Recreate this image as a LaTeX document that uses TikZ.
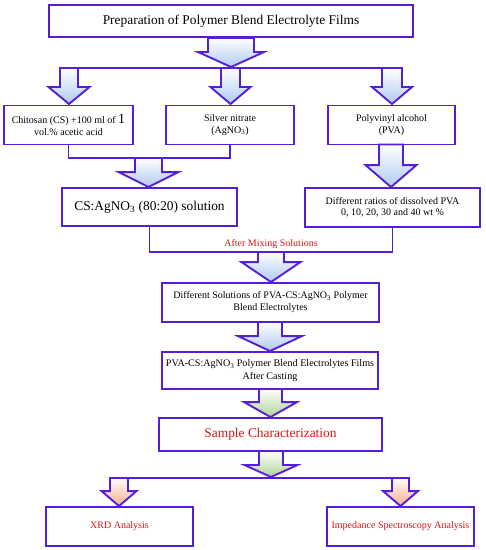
\documentclass[tikz,border=0pt]{standalone}
\usepackage{fontspec}
\setmainfont{Liberation Serif}
\usetikzlibrary{calc}
\definecolor{bord}{RGB}{85,30,215}
\definecolor{lblue}{RGB}{175,202,240}
\definecolor{lgreen}{RGB}{175,212,150}
\definecolor{lorange}{RGB}{245,175,135}
\definecolor{tred}{RGB}{220,20,20}
\tikzset{
  box/.style={draw=bord, line width=1.9pt, fill=white, rectangle, align=center, inner sep=1pt},
  link/.style={draw=bord, line width=1.9pt, line join=miter},
  smalltext/.style={font=\fontsize{10}{12}\selectfont},
  bigtext/.style={font=\fontsize{13.4}{15}\selectfont},
}
% #1 top coordinate, #2 tip y, #3 half shaft, #4 half head, #5 head length, #6 colour
\newcommand{\barrow}[6]{%
  \path[draw=bord, line width=1.9pt, line join=miter, top color=white, bottom color=#6]
    let \p1=(#1), \p2=(#2) in
    (\x1-#3,\y1) -- (\x1+#3,\y1) -- (\x1+#3,\y2+#5) -- (\x1+#4,\y2+#5) -- (\x1,\y2)
    -- (\x1-#4,\y2+#5) -- (\x1-#3,\y2+#5) -- cycle;}
\begin{document}
\begin{tikzpicture}[x=1pt,y=-1pt]
\useasboundingbox (0,0) rectangle (486,550);
% nodes
\node[box, bigtext, minimum width=364pt, minimum height=32pt] (title) at (231,21) {Preparation of Polymer Blend Electrolyte Films};
\node[box, smalltext, minimum width=129pt, minimum height=39pt] (chit) at (68.5,125) {Chitosan (CS) +100 ml of {\fontsize{14}{12}\selectfont 1}\\vol.\% acetic acid};
\node[box, smalltext, minimum width=128pt, minimum height=39pt] (silver) at (230,125) {Silver nitrate\\(AgNO\textsubscript{3})};
\node[box, smalltext, minimum width=127pt, minimum height=39pt] (pva) at (391.5,125) {Polyvinyl alcohol\\(PVA)};
\node[box, bigtext, minimum width=175pt, minimum height=38pt] (csag) at (149.5,207) {CS:AgNO\textsubscript{3} (80:20) solution};
\node[box, font=\fontsize{10}{11}\selectfont, minimum width=175pt, minimum height=39pt] (ratios) at (392.5,207.5) {Different ratios of dissolved PVA\\0, 10, 20, 30 and 40 wt \%};
\node[box, smalltext, minimum width=217pt, minimum height=39pt] (diffsol) at (270.5,302.5) {Different Solutions of PVA-CS:AgNO\textsubscript{3} Polymer\\Blend Electrolytes};
\node[box, font=\fontsize{10.1}{12.5}\selectfont, minimum width=216pt, minimum height=37pt] (films) at (270,370.5) {PVA-CS:AgNO\textsubscript{3} Polymer Blend Electrolytes Films\\After Casting};
\node[box, bigtext, minimum width=223pt, minimum height=33pt, text=tred] (sample) at (270.5,434.5) {Sample Characterization};
\node[box, smalltext, minimum width=147pt, minimum height=39pt, text=tred] (xrd) at (119.5,526.5) {XRD Analysis};
\node[box, smalltext, minimum width=147pt, minimum height=39pt, text=tred] (imp) at (400.5,526.5) {Impedance Spectroscopy Analysis};
% coordinates for the branching lines
\coordinate (b1L) at (60,68);
\coordinate (b1R) at (402,68);
\coordinate (b2) at (148.5,158);
\coordinate (b3) at (271,252);
\coordinate (b4L) at (110,478);
\coordinate (b4R) at (409,478);
% connector lines
\draw[link] (b1L) -- (b1R);
\draw[link] (chit.south) -- (chit.south |- b2) -- (silver.south |- b2) -- (silver.south);
\draw[link] (csag.south) -- (csag.south |- b3) -- (ratios.south |- b3) -- (ratios.south);
\draw[link] (b4L) -- (b4R);
\node[smalltext, text=tred] (mix) at (271,244) {After Mixing Solutions};
% block arrows
\barrow{title.south}{0,67}{23}{33}{15}{lblue}
\barrow{69,68}{0,104}{9}{20.5}{17}{lblue}
\barrow{230.5,68}{0,104}{9.5}{20}{17}{lblue}
\barrow{392,68}{0,104}{10}{20}{17}{lblue}
\barrow{b2}{csag.north}{13.5}{30}{15}{lblue}
\barrow{391,144.5}{ratios.north}{12}{25.5}{22}{lblue}
\barrow{b3}{diffsol.north}{13}{29.5}{20}{lblue}
\barrow{270,322}{films.north}{12}{32}{15}{lblue}
\barrow{270.5,389}{sample.north}{11.5}{26.5}{15}{lgreen}
\barrow{271,451}{0,477}{12}{26.5}{12}{lgreen}
\barrow{119,478}{xrd.north}{9}{17.5}{15}{lorange}
\barrow{400.5,478}{imp.north}{8.5}{17.5}{15}{lorange}
\end{tikzpicture}
\end{document}
